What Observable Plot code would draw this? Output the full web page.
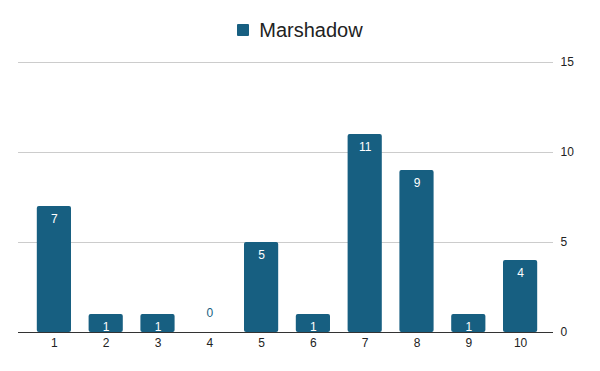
<!DOCTYPE html>
<html>
<head>
<meta charset="utf-8">
<script src="https://cdn.jsdelivr.net/npm/d3@7"></script>
<script src="https://cdn.jsdelivr.net/npm/@observablehq/plot@0.6"></script>
<style>
  html, body { margin: 0; padding: 0; background: #fff; }
  body { width: 600px; height: 371px; overflow: hidden; font-family: "Liberation Sans", Arial, sans-serif; }
  #legend { height: 50px; display: flex; align-items: center; justify-content: center; padding-top: 10px; box-sizing: border-box; }
  #legend .sw { width: 12px; height: 12px; background: #175f81; border-radius: 1px; margin-right: 10px; }
  #legend .lab { font-size: 20px; color: #222; }
  svg { display: block; }
</style>
</head>
<body>
<div id="legend"><span class="sw"></span><span class="lab">Marshadow</span></div>
<div id="chart"></div>
<script>
const seriesName = "Marshadow";
const categories = ["1", "2", "3", "4", "5", "6", "7", "8", "9", "10"];
const values = [7, 1, 1, 0, 5, 1, 11, 9, 1, 4];
const yTicks = [0, 5, 10, 15];

const color = "#175f81";
const data = categories.map((c, i) => ({cat: c, value: values[i]}));

const chart = Plot.plot({
  width: 600,
  height: 321,
  marginTop: 12,
  marginBottom: 39,
  marginLeft: 18,
  marginRight: 47,
  style: {fontFamily: "'Liberation Sans', Arial, sans-serif", fontSize: "12px", color: "#222", background: "#fff"},
  x: {domain: categories, range: [28, 546], paddingInner: 0.34, paddingOuter: 0.17, round: false, label: null},
  y: {domain: [0, 15], label: null},
  marks: [
    Plot.ruleY(yTicks.filter(d => d > 0), {stroke: "#cccccc", strokeWidth: 1}),
    Plot.barY(data, {x: "cat", y: "value", fill: color, rx: 2}),
    Plot.ruleY([0], {stroke: "#333", strokeWidth: 1}),
    Plot.text(data.filter(d => d.value > 0), {x: "cat", y: "value", text: d => String(d.value), fill: "#fff", dy: 13, fontSize: 12}),
    Plot.text(data.filter(d => d.value === 0), {x: "cat", y: "value", text: d => String(d.value), fill: color, dy: -19, fontSize: 12}),
    Plot.axisX({tickSize: 0, tickPadding: 6, fontSize: 12, fill: "#222"}),
    Plot.axisY({anchor: "right", ticks: yTicks, tickSize: 0, tickPadding: 7, fontSize: 12, fill: "#222", textAnchor: "start"})
  ]
});
document.getElementById("chart").appendChild(chart);
</script>
</body>
</html>
